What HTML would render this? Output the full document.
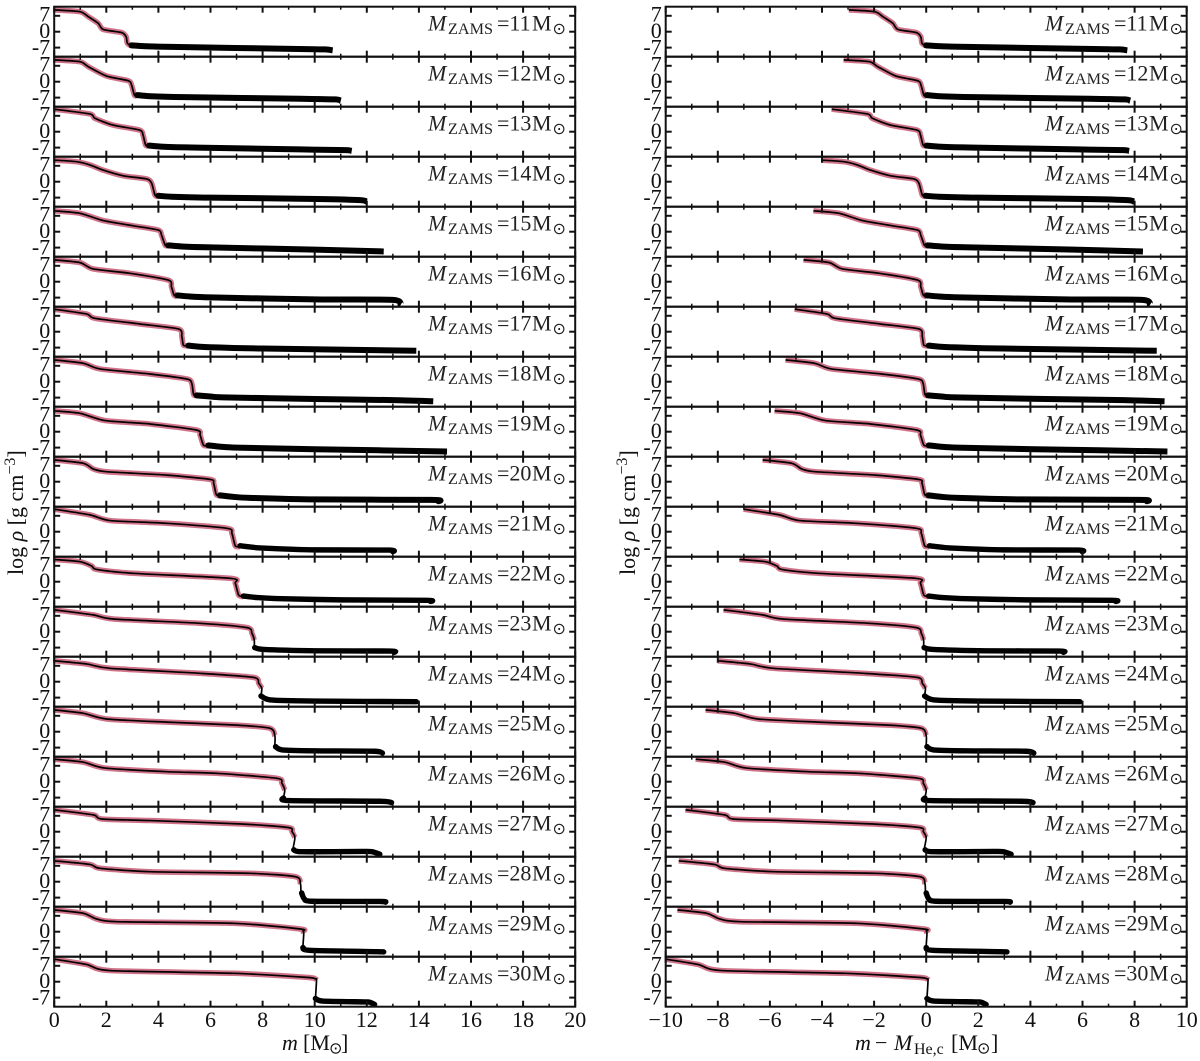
<!DOCTYPE html>
<html lang="en">
<head>
<meta charset="utf-8">
<title>Density profiles by ZAMS mass</title>
<style>
html,body{margin:0;padding:0;background:#fff;}
svg{display:block;font-family:"Liberation Serif",serif;fill:#111;}
</style>
</head>
<body>
<svg id="chart" xmlns="http://www.w3.org/2000/svg" width="1200" height="1061" viewBox="0 0 1200 1061">
  <rect x="0" y="0" width="1200" height="1061" fill="#fff"/>
  <g id="marks"></g>
  <g id="axes"></g>
  <text font-size="22" y="1050"><tspan x="282" font-style="italic">m</tspan><tspan x="303">[M</tspan><tspan x="329" y="1053.5" font-size="16" font-family="DejaVu Sans, sans-serif">⊙</tspan><tspan x="341" y="1050">]</tspan></text>
  <text font-size="22" y="1050"><tspan x="855" font-style="italic">m</tspan><tspan x="875">−</tspan><tspan x="894" font-style="italic">M</tspan><tspan x="914" y="1054" font-size="16">He,c</tspan><tspan x="951" y="1050">[M</tspan><tspan x="977" y="1053.5" font-size="16" font-family="DejaVu Sans, sans-serif">⊙</tspan><tspan x="991" y="1050" >]</tspan></text>
  <text font-size="22" transform="translate(23,575) rotate(-90)">log <tspan font-style="italic">ρ</tspan> [g cm<tspan font-size="16" dy="-8">−3</tspan><tspan dy="8">]</tspan></text>
  <text font-size="22" transform="translate(635,575) rotate(-90)">log <tspan font-style="italic">ρ</tspan> [g cm<tspan font-size="16" dy="-8">−3</tspan><tspan dy="8">]</tspan></text>
</svg>
<script>
const zamsMasses = [11,12,13,14,15,16,17,18,19,20,21,22,23,24,25,26,27,28,29,30];
const heCoreMass = [2.97,3.17,3.63,4.02,4.33,4.71,5.05,5.4,5.82,6.28,7.01,7.17,7.78,8.0,8.47,8.85,9.24,9.5,9.55,10.0];
const coreMass = [
  [0,0.99,1.31,1.69,1.88,2.59,2.76,2.81,2.97],
  [0,0.99,1.31,2.01,2.85,2.97,3.08,3.19],
  [0,1.37,1.56,2.26,3.28,3.41,3.51,3.64],
  [0,0.86,1.37,1.88,2.65,3.55,3.74,3.87,4.0],
  [0,0.99,1.88,3.04,4.0,4.12,4.26,4.38],
  [0,0.99,1.5,2.91,4.38,4.5,4.6,4.73],
  [0,1.24,1.56,3.29,4.77,4.9,4.96,5.15],
  [0,1.12,1.76,3.68,5.09,5.28,5.35,5.47],
  [0,0.99,1.95,3.68,5.47,5.6,5.73,5.92],
  [0,1.12,1.5,2.01,4.32,5.99,6.12,6.22,6.37],
  [0,1.37,2.14,4.32,6.63,6.82,6.95,7.14],
  [0,0.99,1.44,1.63,3.04,6.76,6.95,7.08,7.27],
  [0,1.5,2.27,5.6,7.4,7.59,7.68,7.68],
  [0,1.24,2.14,5.6,7.65,7.85,7.97,7.94],
  [0,1.12,2.01,4.32,7.01,8.29,8.47,8.47],
  [0,1.12,1.95,4.32,6.24,8.55,8.74,8.85,8.8],
  [0,1.5,1.82,3.68,7.2,9.0,9.13,9.24,9.17],
  [0,1.37,1.76,3.68,7.53,9.26,9.45,9.47],
  [0,1.12,1.63,2.4,6.88,9.45,9.55,9.58,9.55],
  [0,1.24,2.14,6.88,9.7,10.03,10.07,10.03]
];
const coreRho = [
  [9.6,8.8,6.6,3.7,1.0,-0.4,-2.2,-5.1,-6.3],
  [9.6,8.8,6.6,2.5,0.4,-1.5,-5.9,-6.3],
  [9.9,7.8,5.9,2.9,0.7,-1.5,-5.9,-6.3],
  [9.5,8.8,7.4,5.1,2.6,1.2,-0.7,-5.9,-6.5],
  [9.2,8.1,4.9,2.6,0.7,-1.5,-5.9,-6.2],
  [9.6,8.4,5.6,3.7,0.7,-2.2,-5.9,-6.6],
  [9.9,7.8,5.9,3.4,1.2,-2.2,-5.9,-6.3],
  [9.6,8.1,5.6,3.4,1.2,-0.7,-5.6,-6.2],
  [9.2,8.1,4.9,3.4,0.7,-1.5,-5.9,-6.2],
  [9.6,8.1,5.6,4.4,2.9,1.0,-0.7,-5.6,-6.2],
  [9.9,7.4,4.9,3.7,1.5,-0.7,-6.2,-6.6],
  [9.8,8.8,6.9,5.4,3.7,1.5,-0.7,-5.9,-6.6],
  [9.6,7.4,5.6,3.7,1.8,-0.7,-3.7,-6.6],
  [9.2,7.8,5.9,3.7,1.9,-0.7,-2.9,-5.9],
  [9.6,8.1,5.6,4.2,2.9,1.5,-1.8,-5.9],
  [9.9,8.6,6.0,4.4,3.7,1.5,-0.7,-3.7,-7.0],
  [9.6,7.4,5.6,4.9,3.4,1.8,0,-2.5,-7.3],
  [9.2,7.6,5.9,4.4,3.7,2.2,-0.7,-4.7],
  [9.6,8.1,5.6,4.4,3.7,1.2,0.3,-0.7,-6.0],
  [9.9,7.6,4.9,3.7,1.9,1.2,0.7,-7.2]
];
const pinkPointCount = [9,8,8,9,8,8,8,8,8,9,8,9,7,7,7,8,8,7,8,7];
const envelopeMass = [
  [2.97,3.5,4.5,9.4,10.4,10.69],
  [3.19,3.7,5,9.45,10.8,11.0],
  [3.64,4.2,5.5,9.45,11.2,11.42],
  [4.0,4.5,6,10.1,11.75,12.0],
  [4.38,4.9,6,10,12.65],
  [4.73,5.2,6,10,13.0,13.3],
  [5.15,5.6,6.5,8,13.9],
  [5.47,6,6.5,10,13,14.55],
  [5.92,6.4,7,10,15.08],
  [6.37,6.9,7.5,10,14.5,14.75],
  [7.14,7.6,8,10,12.85,13.0],
  [7.27,7.8,8.5,11,14.3,14.45],
  [7.7,8.04,10.1,12.9,13.05],
  [7.94,8.3,10,13.9],
  [8.5,8.75,10,12.3,12.6],
  [8.8,9.0,12.5,12.95],
  [9.2,9.5,11.8,12.2,12.5],
  [9.5,9.6,9.9,12.5,12.72],
  [9.55,9.8,12.4,12.65],
  [10.03,10.3,11.9,12.1,12.3]
];
const envelopeRho = [
  [-6.0,-6.4,-6.7,-7.6,-7.8,-8.2],
  [-5.9,-6.4,-6.8,-7.5,-7.8,-8.4],
  [-6.1,-6.6,-7.0,-7.8,-8.1,-8.5],
  [-6.2,-6.6,-7.0,-7.6,-8.1,-8.8],
  [-6.0,-6.5,-6.9,-7.9,-8.7],
  [-6.0,-6.5,-6.9,-7.8,-8.0,-10.2],
  [-6.1,-6.6,-7.0,-7.4,-8.4],
  [-6.0,-6.5,-6.9,-7.6,-8.1,-8.6],
  [-6.0,-6.6,-7.0,-7.7,-8.7],
  [-6.0,-6.7,-7.1,-7.8,-8.0,-8.6],
  [-6.2,-6.8,-7.2,-8.0,-8.1,-8.8],
  [-6.3,-7.0,-7.4,-8.0,-8.2,-8.7],
  [-7.0,-7.8,-8.4,-8.5,-9.1],
  [-6.3,-8.0,-8.5,-8.8],
  [-6.6,-8.0,-8.4,-8.6,-9.4],
  [-7.2,-8.3,-8.6,-9.2],
  [-8.0,-8.8,-8.7,-8.8,-9.9],
  [-5.0,-7.5,-8.6,-8.7,-9.0],
  [-7.0,-8.2,-8.8,-8.9],
  [-7.4,-8.5,-8.9,-9.0,-10.0]
];
const rhoTicks = [7,0,-7];
const rhoTickLabels = ["7","0","-7"];
const leftXTicks = [0,2,4,6,8,10,12,14,16,18,20];
const leftXTickLabels = ["0","2","4","6","8","10","12","14","16","18","20"];
const rightXTicks = [-10,-8,-6,-4,-2,0,2,4,6,8,10];
const rightXTickLabels = ["−10","−8","−6","−4","−2","0","2","4","6","8","10"];

const NS = "http://www.w3.org/2000/svg";
const pxPerMass = 26.05, rowHeight = 50, rowTop = 6.7, pxPerRho = 50 / 22;
const panels = [
  {key:"left", left:54.2, right:575.2, zero:54.2, shift:false, ticks:leftXTicks, labels:leftXTickLabels, labelDx:0},
  {key:"right", left:665.7, right:1186.7, zero:926.2, shift:true, ticks:rightXTicks, labels:rightXTickLabels, labelDx:617}
];
const marks = document.getElementById("marks");
const axes = document.getElementById("axes");
const chart = document.getElementById("chart");
const defs = document.createElementNS(NS, "defs");
chart.appendChild(defs);

function make(tag, attrs, parent){
  const el = document.createElementNS(NS, tag);
  for (const k in attrs) el.setAttribute(k, attrs[k]);
  parent.appendChild(el);
  return el;
}
function xScale(panel, value){ return panel.zero + value * pxPerMass; }
function rowCenter(row){ return rowTop + rowHeight * row + rowHeight / 2; }
function yScale(row, rho){ return rowCenter(row) - rho * pxPerRho; }
function toPath(panel, row, ms, rhos, n){
  const offset = panel.shift ? heCoreMass[row] : 0;
  const p = [];
  for (let i = 0; i < n; i++) p.push([xScale(panel, ms[i] - offset), yScale(row, rhos[i])]);
  let d = "M" + p[0][0].toFixed(2) + " " + p[0][1].toFixed(2);
  const k = 0.12;
  for (let i = 0; i < n - 1; i++) {
    const a = p[Math.max(0, i - 1)], b = p[i], c = p[i + 1], e = p[Math.min(n - 1, i + 2)];
    const c1x = b[0] + (c[0] - a[0]) * k, c1y = b[1] + (c[1] - a[1]) * k;
    const c2x = c[0] - (e[0] - b[0]) * k, c2y = c[1] - (e[1] - b[1]) * k;
    d += " C" + c1x.toFixed(2) + " " + c1y.toFixed(2) + " " + c2x.toFixed(2) + " " + c2y.toFixed(2) + " " + c[0].toFixed(2) + " " + c[1].toFixed(2);
  }
  return d;
}

panels.forEach(function(panel){
  zamsMasses.forEach(function(mass, row){
    const top = rowTop + rowHeight * row;
    const clipId = "clip-" + panel.key + "-" + row;
    const clip = make("clipPath", {id: clipId}, defs);
    make("rect", {x: panel.left, y: top, width: panel.right - panel.left, height: rowHeight}, clip);
    const g = make("g", {"clip-path": "url(#" + clipId + ")"}, marks);
    
    

    const pink = make("path", {
      d: toPath(panel, row, coreMass[row], coreRho[row], pinkPointCount[row]),
      fill: "none", stroke: "#c4506c", "stroke-opacity": "0.8", "stroke-width": "5.5", "stroke-linejoin": "round"
    }, g);
    
    

    const envWidth = row < 10 ? 6 : 5.4;
    const env = make("path", {
      d: toPath(panel, row, envelopeMass[row], envelopeRho[row], envelopeMass[row].length),
      fill: "none", stroke: "#000", "stroke-width": envWidth,
      "stroke-linejoin": "round", "stroke-linecap": row < 9 ? "butt" : "round"
    }, g);
    
    

    const offset = panel.shift ? heCoreMass[row] : 0;
    const blob = make("circle", {
      cx: xScale(panel, envelopeMass[row][0] - offset),
      cy: yScale(row, envelopeRho[row][0]),
      r: envWidth / 2, fill: "#000"
    }, g);
    
    

    const line = make("path", {
      d: toPath(panel, row, coreMass[row], coreRho[row], coreMass[row].length),
      fill: "none", stroke: "#000", "stroke-width": "1.7", "stroke-linejoin": "round"
    }, g);
    
    

    // frame and ticks
    const frame = make("g", {stroke: "#111", fill: "none"}, axes);
    
    
    make("rect", {x: panel.left, y: top, width: panel.right - panel.left, height: rowHeight, "stroke-width": "2"}, frame);
    panel.ticks.forEach(function(t){
      const x = xScale(panel, t);
      make("line", {x1: x, x2: x, y1: top, y2: top + 6, "stroke-width": "2"}, frame);
      make("line", {x1: x, x2: x, y1: top + rowHeight - 6, y2: top + rowHeight, "stroke-width": "2"}, frame);
      const minor = x + pxPerMass;
      if (minor < panel.right) {
        make("line", {x1: minor, x2: minor, y1: top, y2: top + 3, "stroke-width": "1.5"}, frame);
        make("line", {x1: minor, x2: minor, y1: top + rowHeight - 3, y2: top + rowHeight, "stroke-width": "1.5"}, frame);
      }
    });
    rhoTicks.forEach(function(r, i){
      const y = yScale(row, r);
      make("line", {x1: panel.left, x2: panel.left + 6, y1: y, y2: y, "stroke-width": "2"}, frame);
      make("line", {x1: panel.right - 6, x2: panel.right, y1: y, y2: y, "stroke-width": "2"}, frame);
      const lab = make("text", {x: panel.left - 4, y: y + 5.5 + i * 0.6, "text-anchor": "end", "font-size": "22", fill: "#111", stroke: "none"}, axes);
      
      
      lab.textContent = rhoTickLabels[i];
    });

    // row label
    const baseline = top + 24;
    const dx = panel.labelDx;
    const label = make("text", {"font-size": "22", y: baseline, fill: "#222"}, axes);
    
    
    const parts = [
      {t: "M", x: 428, y: baseline, size: 22, italic: true},
      {t: "ZAMS", x: 448, y: baseline + 3.5, size: 16, len: 45},
      {t: "=" + mass, x: 497, y: baseline, size: 22},
      {t: "M", x: 532, y: baseline, size: 22},
      {t: "⊙", x: 552.5, y: baseline + 3.5, size: 16, sun: true}
    ];
    parts.forEach(function(p){
      const s = make("tspan", {x: p.x + dx, y: p.y, "font-size": p.size}, label);
      if (p.italic) s.setAttribute("font-style", "italic");
      if (p.len) { s.setAttribute("textLength", p.len); s.setAttribute("lengthAdjust", "spacingAndGlyphs"); }
      if (p.sun) s.setAttribute("font-family", "DejaVu Sans, sans-serif");
      s.textContent = p.t;
    });
  });

  panel.ticks.forEach(function(t, i){
    const lab = make("text", {x: xScale(panel, t), y: 1027, "text-anchor": "middle", "font-size": "22", fill: "#111"}, axes);
    
    
    lab.textContent = panel.labels[i];
  });
});
</script>
</body>
</html>
